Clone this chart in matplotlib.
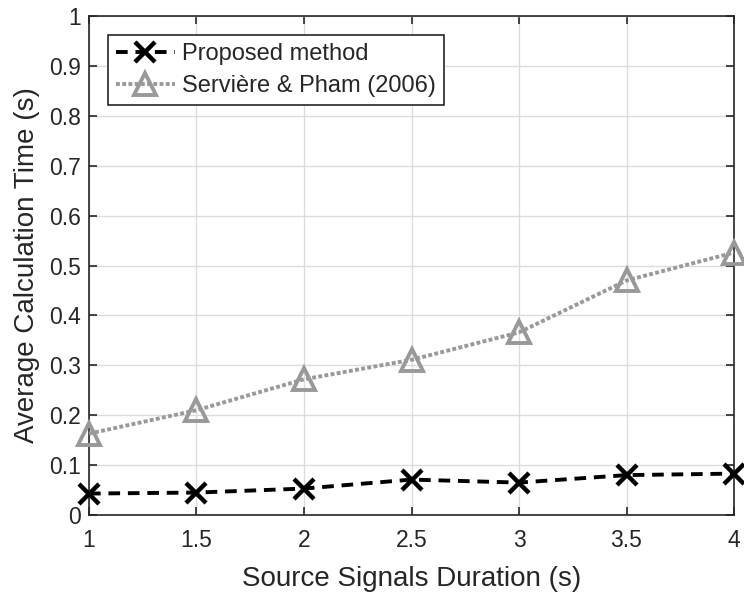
import matplotlib
matplotlib.use('Agg')
import matplotlib.pyplot as plt

plt.rcParams['font.family'] = ['Liberation Sans', 'DejaVu Sans']

# durations of the source signals (s)
durations = [1, 1.5, 2, 2.5, 3, 3.5, 4]
# mean computation time per method (s)
proposed_time = [0.043, 0.045, 0.053, 0.071, 0.065, 0.080, 0.083]
serviere_time = [0.163, 0.210, 0.272, 0.311, 0.366, 0.470, 0.526]

x_ticks = [1, 1.5, 2, 2.5, 3, 3.5, 4]
y_ticks = [0, 0.1, 0.2, 0.3, 0.4, 0.5, 0.6, 0.7, 0.8, 0.9, 1]
y_ticklabels = ['0', '0.1', '0.2', '0.3', '0.4', '0.5', '0.6', '0.7', '0.8', '0.9', '1']

axis_color = '#262626'

fig = plt.figure(figsize=(7.44, 5.93), dpi=100)
ax = fig.add_axes([0.1196, 0.1315, 0.8670, 0.8415])

ax.plot(durations, proposed_time, color='black', linestyle='--', dashes=(3, 2),
        linewidth=2.8, marker='x', markersize=15, markeredgewidth=3.2,
        label='Proposed method', clip_on=False, zorder=4)
ax.plot(durations, serviere_time, color='#999999', linestyle=':', dashes=(1, 0.6),
        linewidth=2.8, marker='^', markersize=16, markeredgewidth=2.8,
        markerfacecolor='none', label='Servière & Pham (2006)', clip_on=False, zorder=3)

ax.set_xlim(1, 4)
ax.set_ylim(0, 1)
ax.set_xticks(x_ticks)
ax.set_xticklabels([f'{t:g}' for t in x_ticks])
ax.set_yticks(y_ticks)
ax.set_yticklabels(y_ticklabels)

ax.grid(True, color='#dcdcdc', linewidth=1.0)
ax.set_axisbelow(True)
for s in ax.spines.values():
    s.set_color(axis_color)
    s.set_linewidth(1.2)
ax.tick_params(direction='in', length=6, width=1.2, top=True, right=True,
               colors=axis_color, labelsize=16.5, pad=10)
ax.tick_params(axis='y', pad=6)

ax.set_xlabel('Source Signals Duration (s)', fontsize=20, color=axis_color, labelpad=10)
ax.set_ylabel('Average Calculation Time (s)', fontsize=20, color=axis_color, labelpad=6)

leg = ax.legend(loc='upper left', bbox_to_anchor=(0.029, 0.962), fontsize=17,
                handlelength=2.5, handletextpad=0.3, borderpad=0.35,
                labelspacing=0.42, fancybox=False, framealpha=1,
                edgecolor=axis_color, borderaxespad=0)
leg.get_frame().set_linewidth(1.2)
for t in leg.get_texts():
    t.set_color(axis_color)

fig.savefig('out.png', dpi=100)
